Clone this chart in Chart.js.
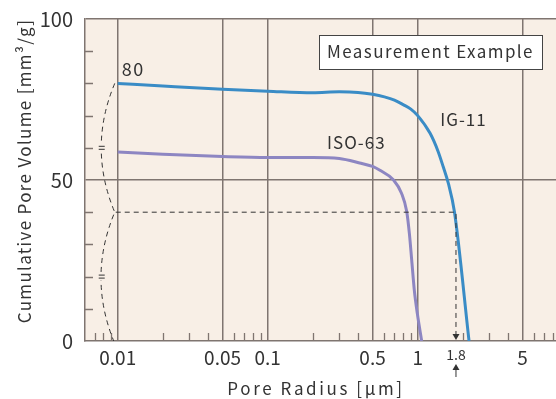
<!DOCTYPE html>
<html>
<head>
<meta charset="utf-8">
<script src="https://cdn.jsdelivr.net/npm/chart.js"></script>
<style>
  html, body { margin: 0; padding: 0; background: #ffffff; }
  canvas { display: block; }
</style>
</head>
<body>
<canvas id="grafico" width="556" height="399"></canvas>
<script>
// ---------- datos ----------
// IG-11 (curva azul)
const igRadius = [0.01, 0.02, 0.05, 0.1, 0.2, 0.3, 0.4, 0.5, 0.6, 0.7, 0.8, 0.9, 1.0, 1.21, 1.37, 1.48, 1.6, 1.76, 2.2];
const igVolume = [80, 79.2, 78.2, 77.6, 77.1, 77.4, 77.2, 76.6, 75.8, 74.8, 73.4, 72, 70, 64.5, 58.8, 54.1, 49, 40, 0];
// ISO-63 (curva violeta)
const isoRadius = [0.01, 0.02, 0.05, 0.1, 0.2, 0.3, 0.41, 0.5, 0.56, 0.69, 0.78, 0.845, 0.88, 0.912, 0.949, 0.994, 1.063];
const isoVolume = [58.7, 58, 57.3, 57, 57, 56.7, 55.3, 54.2, 53, 50, 45.9, 40.2, 33.4, 25.2, 15.9, 8.6, 0];

// ejes
const xTicks = [0.01, 0.05, 0.1, 0.5, 1, 1.8, 5];
const xGridLines = [0.01, 0.05, 0.1, 0.5, 1, 5];
const xMinorTicks = [0.007, 0.008, 0.009, 0.02, 0.03, 0.04, 0.06, 0.07, 0.08, 0.09,
  0.2, 0.3, 0.4, 0.6, 0.7, 0.8, 0.9, 2, 3, 4, 6, 7, 8];
const yTicks = [0, 50, 100];
const yMinorTicks = [10, 20, 30, 40, 60, 70, 80, 90];

// marca del ejemplo (80 -> la mitad 40 -> radio 1.8)
const markTop = 80;
const markHalf = 40;
const markRadius = 1.8;

const FONT = "'Noto Sans CJK JP', 'Noto Sans', sans-serif";
const TXT = '#333333';
const GRID = '#7f7570';

function toPts(xs, ys) {
  return xs.map((x, i) => ({ x: x, y: ys[i] }));
}

// ---------- plugin: fondo, marcas, textos ----------
const extras = {
  id: 'extras',
  beforeDraw(chart) {
    const { ctx, chartArea: a } = chart;
    ctx.save();
    ctx.fillStyle = '#f8efe6';
    ctx.fillRect(a.left, a.top, a.right - a.left, a.bottom - a.top);
    ctx.restore();
  },
  afterDatasetsDraw(chart) {
    const { ctx, chartArea: a, scales: { x, y } } = chart;
    ctx.save();

    // ticks menores
    ctx.strokeStyle = GRID;
    ctx.lineWidth = 1.3;
    ctx.beginPath();
    xMinorTicks.forEach(v => {
      const px = Math.round(x.getPixelForValue(v)) + 0.5;
      ctx.moveTo(px, a.bottom);
      ctx.lineTo(px, a.bottom - 8);
    });
    yMinorTicks.forEach(v => {
      const py = Math.round(y.getPixelForValue(v)) + 0.5;
      ctx.moveTo(a.left, py);
      ctx.lineTo(a.left + 8, py);
    });
    ctx.stroke();

    // llave punteada a la izquierda
    const x0 = x.getPixelForValue(0.01);
    const yTop = y.getPixelForValue(markTop);
    const yMid = y.getPixelForValue(markHalf);
    const yBot = y.getPixelForValue(0);
    const xm = x.getPixelForValue(markRadius);
    ctx.strokeStyle = '#333';
    ctx.lineWidth = 1;
    ctx.setLineDash([5, 4]);
    ctx.beginPath();
    ctx.moveTo(x0 - 3, yTop);
    ctx.quadraticCurveTo(x0 - 30, (yTop + yMid) / 2, x0 - 3, yMid);
    ctx.quadraticCurveTo(x0 - 30, (yMid + yBot) / 2, x0 - 4, yBot);
    ctx.stroke();

    // línea horizontal y vertical hasta 1.8
    ctx.beginPath();
    ctx.moveTo(x0 - 2, yMid);
    ctx.lineTo(xm, yMid);
    ctx.lineTo(xm, yBot - 6);
    ctx.stroke();
    ctx.setLineDash([]);

    // signos "=" en la llave (tapamos un poco la línea punteada)
    [(yTop + yMid) / 2, (yMid + yBot) / 2].forEach(yy => {
      ctx.fillStyle = '#f8efe6';
      ctx.fillRect(x0 - 20, yy - 4, 8, 8);
      ctx.beginPath();
      ctx.moveTo(x0 - 19, yy - 1.5); ctx.lineTo(x0 - 13, yy - 1.5);
      ctx.moveTo(x0 - 19, yy + 1.5); ctx.lineTo(x0 - 13, yy + 1.5);
      ctx.stroke();
    });

    // punta de flecha hacia abajo
    ctx.fillStyle = '#333';
    ctx.beginPath();
    ctx.moveTo(xm - 3.5, yBot - 7);
    ctx.lineTo(xm + 3.5, yBot - 7);
    ctx.lineTo(xm, yBot - 1);
    ctx.closePath();
    ctx.fill();

    // flecha hacia arriba bajo el eje
    ctx.beginPath();
    ctx.moveTo(xm, yBot + 36);
    ctx.lineTo(xm, yBot + 27);
    ctx.stroke();
    ctx.beginPath();
    ctx.moveTo(xm - 3.5, yBot + 29);
    ctx.lineTo(xm + 3.5, yBot + 29);
    ctx.lineTo(xm, yBot + 23);
    ctx.closePath();
    ctx.fill();

    // textos (línea base alfabética)
    ctx.fillStyle = TXT;
    ctx.textBaseline = 'alphabetic';
    ctx.font = '18px ' + FONT;
    ctx.letterSpacing = '1.5px';
    ctx.textAlign = 'left';
    ctx.fillText('80', x0 + 4, yTop - 7);
    ctx.font = '17px ' + FONT;
    ctx.textAlign = 'center';
    ctx.letterSpacing = '1px';
    ctx.fillText('IG-11', x.getPixelForValue(2.02), y.getPixelForValue(66.8));
    ctx.fillText('ISO-63', x.getPixelForValue(0.39), y.getPixelForValue(59.5));

    // recuadro "Measurement Example"
    const bw = 223, bh = 34;
    const bx = a.right - 14 - bw, by = a.top + 16;
    ctx.fillStyle = '#ffffff';
    ctx.fillRect(bx, by, bw, bh);
    ctx.strokeStyle = '#444';
    ctx.lineWidth = 1;
    ctx.strokeRect(bx + 0.5, by + 0.5, bw, bh);
    ctx.fillStyle = TXT;
    ctx.letterSpacing = '1.4px';
    ctx.fillText('Measurement Example', bx + bw / 2, by + 23);

    // títulos de ejes
    ctx.font = '17px ' + FONT;
    ctx.letterSpacing = '2.6px';
    ctx.fillText('Pore Radius [\u03bcm]', 316, 395);
    ctx.save();
    ctx.translate(31, 171);
    ctx.rotate(-Math.PI / 2);
    ctx.letterSpacing = '1.33px';
    ctx.fillText('Cumulative Pore Volume [mm\u00b3/g]', 0, 0);
    ctx.restore();

    ctx.restore();
  }
};

// ---------- gráfico ----------
const ctx = document.getElementById('grafico').getContext('2d');
new Chart(ctx, {
  type: 'line',
  data: {
    datasets: [
      {
        label: 'IG-11',
        data: toPts(igRadius, igVolume),
        borderColor: '#3a8cc6',
        borderWidth: 3,
        pointRadius: 0,
        cubicInterpolationMode: 'monotone'
      },
      {
        label: 'ISO-63',
        data: toPts(isoRadius, isoVolume),
        borderColor: '#8d86c2',
        borderWidth: 3,
        pointRadius: 0,
        cubicInterpolationMode: 'monotone'
      }
    ]
  },
  options: {
    responsive: false,
    animation: false,
    devicePixelRatio: 1,
    layout: { padding: { top: 19, right: 0, left: 0, bottom: 0 } },
    plugins: { legend: { display: false }, tooltip: { enabled: false } },
    scales: {
      x: {
        type: 'logarithmic',
        min: 0.00605,
        max: 8.36,
        afterBuildTicks: s => { s.ticks = xTicks.map(v => ({ value: v })); },
        afterFit: s => { s.height = 58; s.paddingLeft = 0; s.paddingRight = 0; },
        grid: {
          drawTicks: false,
          lineWidth: 1.5,
          color: c => (c.tick && xGridLines.includes(c.tick.value)) ? GRID : 'rgba(0,0,0,0)'
        },
        border: { color: GRID, width: 1.5 },
        ticks: {
          autoSkip: false,
          maxRotation: 0,
          padding: 5,
          color: TXT,
          font: c => (c.tick && c.tick.value === markRadius)
            ? { family: FONT, size: 14 }
            : { family: FONT, size: 19 },
          callback: v => String(v)
        }
      },
      y: {
        min: 0,
        max: 100,
        afterBuildTicks: s => { s.ticks = yTicks.map(v => ({ value: v })); },
        afterFit: s => { s.width = 85; s.paddingTop = 0; s.paddingBottom = 0; },
        grid: {
          drawTicks: false,
          lineWidth: 1.5,
          color: c => (c.tick && c.tick.value > 0) ? GRID : 'rgba(0,0,0,0)'
        },
        border: { color: GRID, width: 1.5 },
        ticks: {
          padding: 12,
          color: TXT,
          font: { family: FONT, size: 20 }
        }
      }
    }
  },
  plugins: [extras]
});
</script>
</body>
</html>
